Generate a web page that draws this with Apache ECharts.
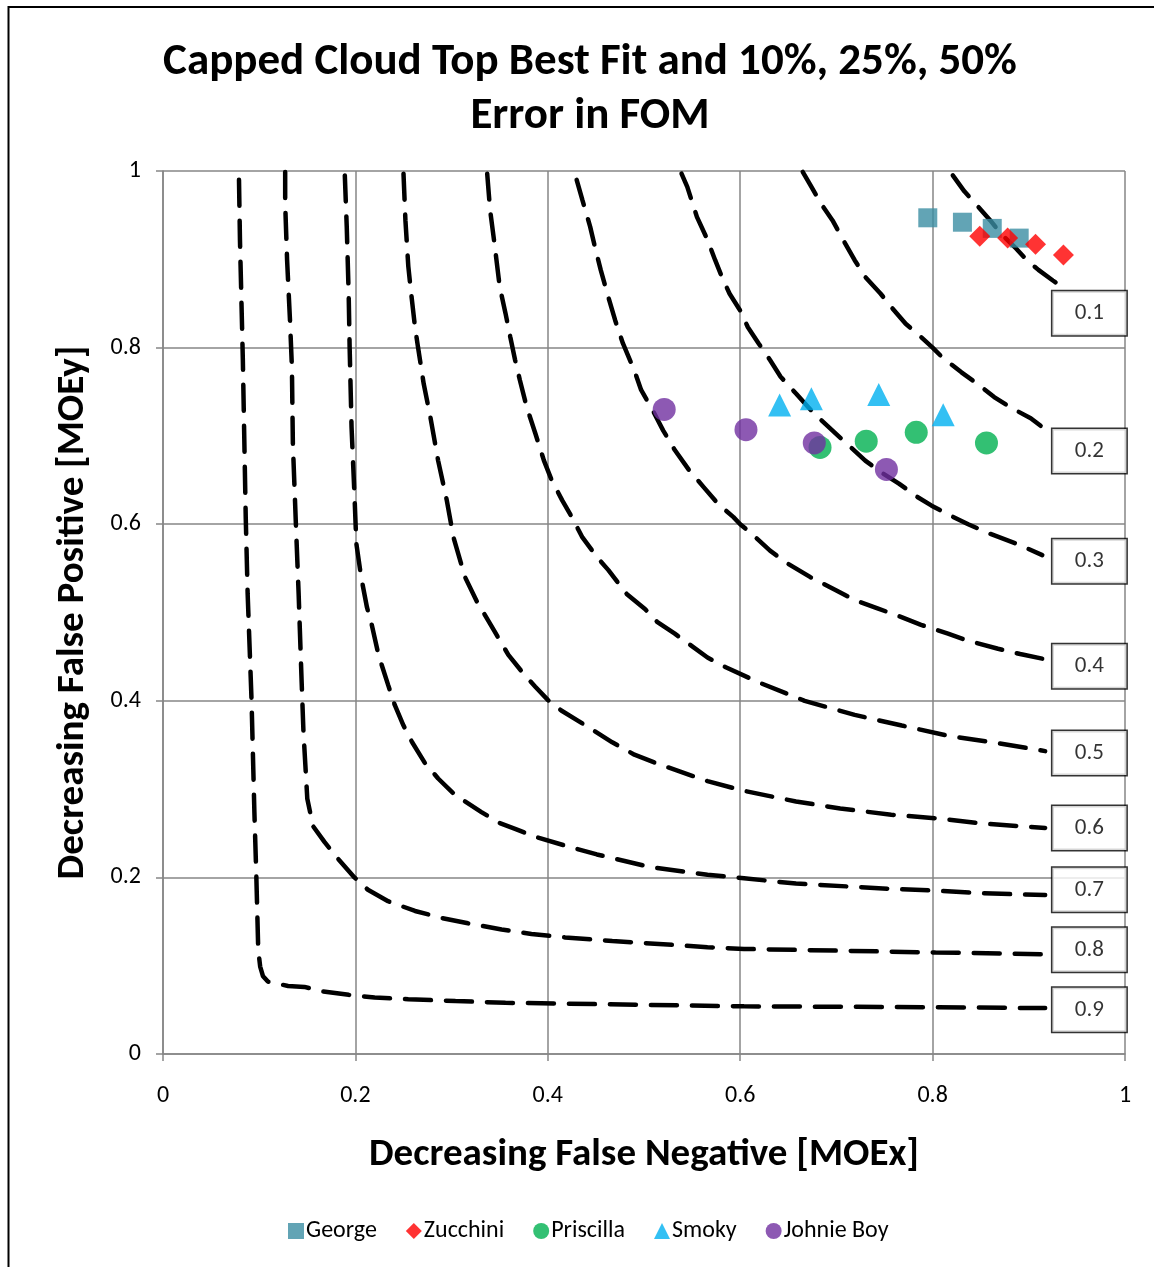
<!DOCTYPE html>
<html>
<head>
<meta charset="utf-8">
<script src="https://cdn.jsdelivr.net/npm/echarts@6/dist/echarts.min.js"></script>
<style>
  html, body { margin: 0; padding: 0; background: #fff; }
  #chart { width: 1154px; height: 1267px; }
</style>
</head>
<body>
<div id="chart"></div>
<script>
// ---- Data ----
const xTickLabels = ['0', '0.2', '0.4', '0.6', '0.8', '1'];
const yTickLabels = ['0', '0.2', '0.4', '0.6', '0.8', '1'];

const seriesNames = ['George', 'Zucchini', 'Priscilla', 'Smoky', 'Johnie Boy'];
const george    = [[0.795, 0.947], [0.831, 0.942], [0.862, 0.935], [0.890, 0.924]];
const zucchini  = [[0.849, 0.926], [0.878, 0.924], [0.907, 0.917], [0.936, 0.905]];
const priscilla = [[0.683, 0.687], [0.731, 0.694], [0.783, 0.704], [0.856, 0.692]];
const smoky     = [[0.641, 0.735], [0.674, 0.742], [0.744, 0.747], [0.811, 0.724]];
const johnieBoy = [[0.521, 0.730], [0.606, 0.707], [0.677, 0.692], [0.752, 0.662]];

// FOM contour curves (dashed), labelled 0.1 ... 0.9
const contourLabels = ['0.1', '0.2', '0.3', '0.4', '0.5', '0.6', '0.7', '0.8', '0.9'];
const contourLabelY = [0.839, 0.683, 0.558, 0.439, 0.341, 0.256, 0.186, 0.118, 0.050];
const contourLabelX = 0.963;

const fom10 = [[0.821,0.995],[0.833,0.977],[0.847,0.960],[0.860,0.944],[0.871,0.929],[0.887,0.912],[0.898,0.899],[0.910,0.888],[0.925,0.876],[0.940,0.865]];
const fom20 = [[0.665,0.999],[0.673,0.984],[0.684,0.963],[0.696,0.944],[0.707,0.922],[0.719,0.899],[0.730,0.880],[0.746,0.861],[0.757,0.846],[0.772,0.827],[0.788,0.812],[0.800,0.800],[0.810,0.789],[0.830,0.772],[0.849,0.757],[0.864,0.744],[0.883,0.731],[0.902,0.720],[0.914,0.710]];
const fom30 = [[0.539,0.997],[0.545,0.982],[0.555,0.948],[0.566,0.922],[0.574,0.899],[0.581,0.880],[0.589,0.861],[0.600,0.842],[0.608,0.823],[0.619,0.805],[0.631,0.786],[0.642,0.767],[0.658,0.748],[0.677,0.725],[0.696,0.706],[0.711,0.691],[0.730,0.672],[0.749,0.657],[0.765,0.646],[0.784,0.631],[0.799,0.621],[0.818,0.610],[0.837,0.600],[0.860,0.589],[0.887,0.578],[0.914,0.565]];
const fom40 = [[0.430,0.990],[0.436,0.967],[0.444,0.937],[0.449,0.914],[0.455,0.888],[0.463,0.857],[0.470,0.831],[0.478,0.805],[0.490,0.774],[0.497,0.752],[0.509,0.729],[0.520,0.706],[0.532,0.684],[0.547,0.661],[0.562,0.642],[0.577,0.623],[0.593,0.608],[0.600,0.600],[0.612,0.589],[0.631,0.570],[0.650,0.555],[0.673,0.540],[0.700,0.525],[0.719,0.514],[0.742,0.505],[0.767,0.495],[0.788,0.486],[0.816,0.476],[0.837,0.468],[0.868,0.459],[0.891,0.453],[0.917,0.447]];
const fom50 = [[0.337,0.997],[0.340,0.956],[0.345,0.914],[0.350,0.869],[0.356,0.839],[0.361,0.812],[0.366,0.786],[0.371,0.763],[0.378,0.733],[0.387,0.703],[0.396,0.672],[0.404,0.650],[0.415,0.627],[0.425,0.608],[0.436,0.585],[0.451,0.563],[0.463,0.548],[0.482,0.521],[0.501,0.504],[0.514,0.489],[0.532,0.476],[0.566,0.449],[0.585,0.438],[0.619,0.421],[0.667,0.400],[0.719,0.384],[0.768,0.372],[0.818,0.360],[0.868,0.352],[0.917,0.343]];
const fom60 = [[0.250,0.997],[0.252,0.944],[0.255,0.892],[0.258,0.861],[0.262,0.823],[0.265,0.801],[0.271,0.759],[0.278,0.721],[0.286,0.672],[0.295,0.627],[0.302,0.585],[0.314,0.540],[0.326,0.513],[0.345,0.478],[0.359,0.452],[0.376,0.429],[0.387,0.416],[0.400,0.401],[0.414,0.389],[0.432,0.377],[0.467,0.353],[0.490,0.339],[0.516,0.328],[0.566,0.309],[0.604,0.298],[0.658,0.286],[0.704,0.278],[0.757,0.271],[0.803,0.267],[0.852,0.261],[0.917,0.256]];
const fom70 = [[0.189,0.995],[0.191,0.937],[0.193,0.861],[0.194,0.801],[0.196,0.710],[0.199,0.634],[0.201,0.578],[0.206,0.540],[0.212,0.506],[0.217,0.486],[0.224,0.452],[0.234,0.418],[0.241,0.395],[0.250,0.372],[0.259,0.353],[0.272,0.330],[0.286,0.312],[0.304,0.293],[0.331,0.274],[0.349,0.262],[0.366,0.255],[0.387,0.246],[0.418,0.236],[0.451,0.226],[0.505,0.212],[0.566,0.203],[0.604,0.199],[0.658,0.193],[0.757,0.187],[0.803,0.185],[0.852,0.182],[0.917,0.180]];
const fom80 = [[0.127,0.999],[0.127,0.963],[0.129,0.899],[0.132,0.831],[0.134,0.778],[0.135,0.691],[0.138,0.604],[0.141,0.521],[0.144,0.425],[0.146,0.365],[0.148,0.327],[0.150,0.289],[0.156,0.258],[0.168,0.240],[0.182,0.221],[0.199,0.200],[0.213,0.186],[0.234,0.173],[0.262,0.162],[0.290,0.154],[0.317,0.148],[0.352,0.141],[0.383,0.136],[0.418,0.132],[0.467,0.128],[0.566,0.121],[0.604,0.119],[0.704,0.117],[0.803,0.115],[0.917,0.113]];
const fom90 = [[0.079,0.990],[0.080,0.922],[0.083,0.786],[0.086,0.608],[0.088,0.521],[0.092,0.402],[0.095,0.274],[0.097,0.202],[0.099,0.118],[0.101,0.099],[0.104,0.088],[0.109,0.082],[0.130,0.077],[0.147,0.076],[0.165,0.071],[0.193,0.067],[0.220,0.064],[0.255,0.062],[0.304,0.060],[0.356,0.058],[0.418,0.057],[0.604,0.054],[0.795,0.053],[0.917,0.052]];

// ---- Build chart ----
const FONT = "Carlito, 'Liberation Sans Narrow', 'Open Sans', sans-serif";
const contours = [fom10, fom20, fom30, fom40, fom50, fom60, fom70, fom80, fom90];

const lineSeries = contours.map((d, i) => ({
  name: 'FOM ' + contourLabels[i],
  type: 'line',
  data: d,
  showSymbol: false,
  symbol: 'none',
  smooth: false,
  silent: true,
  z: 2,
  lineStyle: { color: '#000', width: 4.5, type: [26, 15], cap: 'round' }
}));

const labelSeries = {
  name: 'labels',
  type: 'scatter',
  silent: true,
  z: 5,
  symbolSize: 1,
  itemStyle: { color: 'transparent' },
  data: contourLabels.map((t, i) => [contourLabelX, contourLabelY[i], t]),
  label: {
    show: true,
    position: 'inside',
    formatter: p => p.value[2],
    fontFamily: FONT,
    fontSize: 23,
    color: '#000',
    backgroundColor: '#fff',
    borderColor: '#000',
    borderWidth: 1.5,
    width: 74,
    height: 44,
    lineHeight: 44,
    align: 'center',
    verticalAlign: 'middle',
    padding: 0
  }
};

const markerDefs = [
  { data: george,    symbol: 'rect',     size: 19, color: '#3B8DA2' },
  { data: zucchini,  symbol: 'diamond',  size: 21, color: '#FF0000' },
  { data: priscilla, symbol: 'circle',   size: 23, color: '#00B050' },
  { data: smoky,     symbol: 'triangle', size: 23, color: '#00B0F0' },
  { data: johnieBoy, symbol: 'circle',   size: 23, color: '#7030A0' }
];
const scatterSeries = markerDefs.map((m, i) => ({
  name: seriesNames[i],
  type: 'scatter',
  data: m.data,
  symbol: m.symbol,
  symbolSize: m.size,
  itemStyle: { color: m.color },
  z: 4 + i * 0.1
}));

const axisCommon = {
  type: 'value', min: 0, max: 1, interval: 0.2,
  axisLine: { show: true, lineStyle: { color: '#868686', width: 1.5 } },
  axisTick: { show: true, length: 7, lineStyle: { color: '#868686', width: 1.5 } },
  splitLine: { show: true, lineStyle: { color: '#868686', width: 1.5 } },
  nameLocation: 'middle',
  nameTextStyle: { fontFamily: FONT, fontSize: 39, fontWeight: 'bold', color: '#000' }
};

const option = {
  animation: false,
  backgroundColor: '#fff',
  textStyle: { fontFamily: FONT },
  title: {
    text: 'Capped Cloud Top Best Fit and 10%, 25%, 50%\nError in FOM',
    left: 585,
    top: 31,
    textAlign: 'center',
    textStyle: { fontFamily: FONT, fontSize: 45, fontWeight: 'bold', color: '#000', lineHeight: 54 }
  },
  grid: { left: 163, right: 29, top: 171, bottom: 213, containLabel: false },
  xAxis: Object.assign({}, axisCommon, {
    name: 'Decreasing False Negative [MOEx]',
    nameGap: 82,
    axisLabel: { formatter: (v, i) => xTickLabels[i], fontFamily: FONT, fontSize: 24, color: '#000', margin: 30 }
  }),
  yAxis: Object.assign({}, axisCommon, {
    name: 'Decreasing False Positive [MOEy]',
    nameGap: 70,
    axisLabel: { formatter: (v, i) => yTickLabels[i], fontFamily: FONT, fontSize: 24, color: '#000', margin: 22 }
  }),
  legend: {
    data: seriesNames,
    left: 283,
    top: 1214,
    itemWidth: 16,
    itemHeight: 16,
    itemGap: 29,
    textStyle: { fontFamily: FONT, fontSize: 24, color: '#000', padding: [0, 0, 0, -3] }
  },
  graphic: [{
    type: 'rect',
    silent: true,
    shape: { x: 8.5, y: 7, width: 1300, height: 1400 },
    style: { fill: 'none', stroke: '#000', lineWidth: 2 }
  }],
  series: lineSeries.concat([labelSeries]).concat(scatterSeries)
};

const chart = echarts.init(document.getElementById('chart'), null, { renderer: 'canvas' });
chart.setOption(option);
</script>
</body>
</html>
